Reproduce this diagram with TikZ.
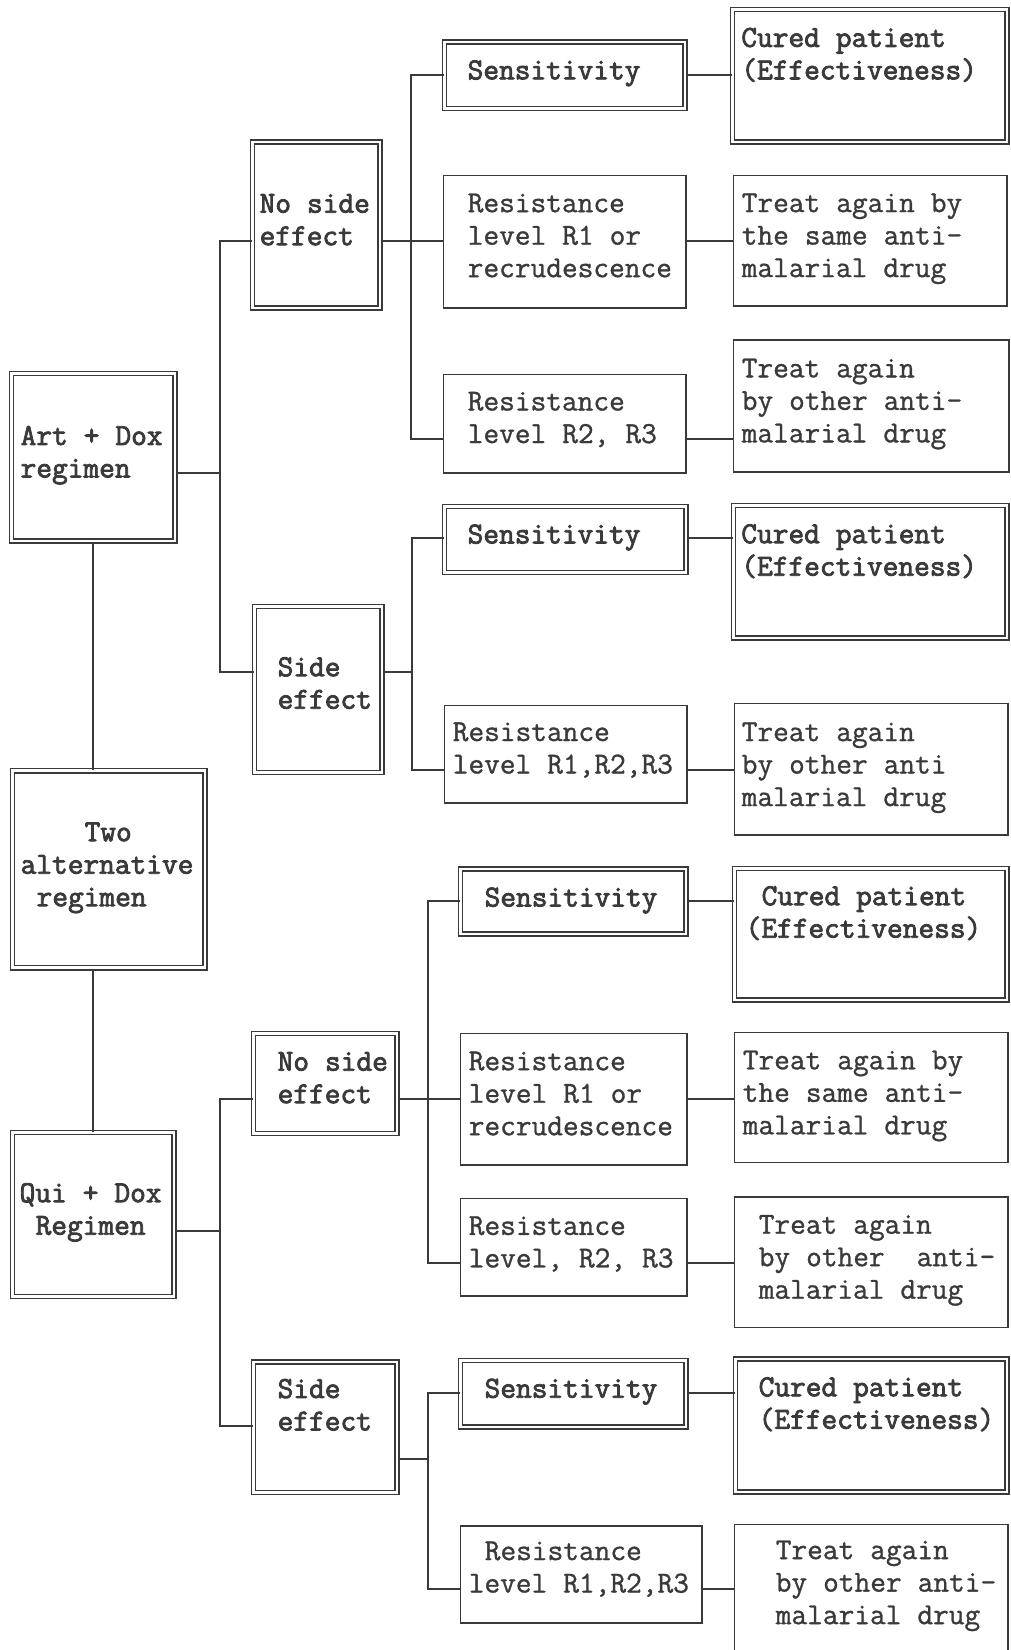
\documentclass[tikz,border=0pt]{standalone}
\usepackage{fontspec}
\usepackage{xcolor}
\usepackage{tikz}
\newfontfamily\typemono{Latin Modern Mono}[FakeBold=1]
\newfontfamily\heavymono{Latin Modern Mono}[FakeBold=2.6]
\definecolor{ink}{RGB}{58,58,58}
\newcommand\fixedspace{\spaceskip=16pt\relax\xspaceskip=16pt\relax}
\newcommand\liftby[1]{\endgraf\kern#1pt\relax}

\begin{document}
\begin{tikzpicture}[
    x=1pt, y=-1pt,
    every node/.style={anchor=north west, inner xsep=0pt, align=left},
    wh/.style 2 args={minimum width=#1pt, text width=#1pt, minimum height=#2pt},
    txt/.style 2 args={
      execute at begin node={\leftskip=#1pt\relax\fixedspace},
      execute at end node={\liftby{#2}}
    },
    sbox/.style={
      draw=ink,
      line width=1.5pt,
      text=ink,
      font=\typemono\fontsize{30.5}{32.5}\selectfont
    },
    dbox/.style={
      draw=ink,
      double,
      double distance=2.8pt,
      line width=1.3pt,
      text=ink,
      font=\heavymono\fontsize{30.5}{32.5}\selectfont
    },
    link/.style={draw=ink, line width=1.5pt}
  ]
    \useasboundingbox[fill=white] (0,0) rectangle (1010,1650);

    \node[dbox, wh={163.6}{167.6}, txt={9.3}{4}] (artdox) at (10.7,372.7)
      {Art + Dox\\regimen};
    \node[dbox, wh={192.6}{197}, txt={8.3}{3}] (two) at (11.7,770.2)
      {\ \ \ \ Two\\alternative\\\ regimen};
    \node[dbox, wh={161.6}{164.1}, txt={7.3}{4}] (quidox) at (11.7,1131.7)
      {Qui + Dox\\\ Regimen};

    \node[dbox, wh={127.6}{166}, txt={7.3}{10.5}] (noside1) at (251.7,141.3)
      {No side\\effect};
    \node[dbox, wh={127.6}{166}, txt={23.3}{12.6}] (side1) at (253.7,605.7)
      {Side\\effect};
    \node[dbox, wh={143.6}{100.2}, txt={24.3}{11.5}] (noside2) at (252.7,1032.7)
      {No side\\effect};
    \node[dbox, wh={143.6}{130.6}, txt={24.3}{12.6}] (side2) at (252.7,1361.3)
      {Side\\effect\\\mbox{}};

    \node[dbox, wh={240.6}{66.7}, txt={23.3}{4}] (sens1) at (443.7,41.3)
      {Sensitivity};
    \node[sbox, wh={242.6}{132.6}, txt={24.3}{12.6}] (res1a) at (442.7,174.7)
      {Resistance\\level R1 or\\recrudescence};
    \node[sbox, wh={242.6}{98.6}, txt={24.3}{8.4}] (res1b) at (442.7,373.7)
      {Resistance\\level R2, R3};
    \node[dbox, wh={241.6}{66.2}, txt={23.3}{4}] (sens2) at (443.7,505.7)
      {Sensitivity};
    \node[sbox, wh={242.6}{97.6}, txt={8.3}{8.4}] (res2) at (443.7,704.7)
      {Resistance\\level R1,R2,R3};
    \node[dbox, wh={225.6}{64.9}, txt={24.3}{2}] (sens3) at (459.7,868.4)
      {Sensitivity};
    \node[sbox, wh={226.6}{131.6}, txt={8.3}{11.5}] (res3a) at (459.7,1032.7)
      {Resistance\\level R1 or\\recrudescence};
    \node[sbox, wh={226.6}{97.3}, txt={8.3}{6.3}] (res3b) at (459.7,1197.7)
      {Resistance\\level, R2, R3};
    \node[dbox, wh={225.6}{66.6}, txt={24.3}{4}] (sens4) at (459.7,1359.7)
      {Sensitivity};
    \node[sbox, wh={241.6}{96.8}, txt={8.3}{10.5}] (res4) at (459.7,1525.2)
      {\ Resistance\\level R1,R2,R3};

    \node[dbox, wh={274.6}{132.2}, txt={9}{4}] (cured1) at (731.7,9.1)
      {Cured patient\\(Effectiveness)\\[8pt]\mbox{}};
    \node[sbox, wh={273.6}{130.6}, txt={8.3}{4}] (treat1a) at (732.7,174.7)
      {Treat again by\\the same anti-\\malarial drug};
    \node[sbox, wh={275.6}{132}, txt={8.3}{4}] (treat1b) at (732.7,339.3)
      {Treat again\\by other anti-\\malarial drug};
    \node[dbox, wh={273.6}{132.6}, txt={8}{3}] (cured2) at (732.7,504.7)
      {Cured patient\\(Effectiveness)\\[8pt]\mbox{}};
    \node[sbox, wh={273.6}{131.6}, txt={7.3}{3}] (treat2) at (733.7,702.7)
      {Treat again\\by other anti\\malarial drug};
    \node[dbox, wh={272.6}{131.6}, txt={11.3}{4}] (cured3) at (733.7,867.7)
      {\ Cured patient\\(Effectiveness)\\[8pt]\mbox{}};
    \node[sbox, wh={273.6}{130.1}, txt={8.3}{3}] (treat3a) at (733.7,1031.7)
      {Treat again by\\the same anti-\\malarial drug};
    \node[sbox, wh={273.6}{130.4}, txt={24.3}{4}] (treat3b) at (733.7,1196.4)
      {Treat again\\by other\ \ anti-\\malarial drug};
    \node[dbox, wh={271.6}{133}, txt={23.3}{12.6}] (cured4) at (734.7,1358.4)
      {Cured patient\\(Effectiveness)\\\mbox{}};
    \node[sbox, wh={273.6}{187}, txt={41.3}{6.3}] (treat4) at (733.7,1523.7)
      {Treat again\\by other anti-\\malarial drug\\\mbox{}\\\mbox{}};

    \coordinate (j1a) at (220,241);
    \coordinate (j1b) at (220,473);
    \coordinate (j1c) at (220,672);
    \coordinate (j2a) at (411,75);
    \coordinate (j2b) at (411,241);
    \coordinate (j2c) at (411,439);
    \coordinate (j3a) at (412,538);
    \coordinate (j3b) at (412,672);
    \coordinate (j3c) at (412,770);
    \coordinate (j4a) at (220,1099);
    \coordinate (j4b) at (220,1231);
    \coordinate (j4c) at (220,1426);
    \coordinate (j5a) at (428,901);
    \coordinate (j5b) at (428,1099);
    \coordinate (j5c) at (428,1263);
    \coordinate (j6a) at (428,1393);
    \coordinate (j6b) at (428,1459);
    \coordinate (j6c) at (428,1589);

    \draw[link] (artdox.south) -- (artdox.south |- two.north);
    \draw[link] (quidox.north) -- (quidox.north |- two.south);

    \draw[link] (noside1.west |- j1a) -- (j1a) -- (j1c) -- (side1.west |- j1c);
    \draw[link] (artdox.east |- j1b) -- (j1b);
    \draw[link] (sens1.west |- j2a) -- (j2a) -- (j2c) -- (res1b.west |- j2c);
    \draw[link] (noside1.east |- j2b) -- (res1a.west |- j2b);
    \draw[link] (sens1.east |- j2a) -- (cured1.west |- j2a);
    \draw[link] (res1a.east |- j2b) -- (treat1a.west |- j2b);
    \draw[link] (res1b.east |- j2c) -- (treat1b.west |- j2c);
    \draw[link] (sens2.west |- j3a) -- (j3a) -- (j3c) -- (res2.west |- j3c);
    \draw[link] (side1.east |- j3b) -- (j3b);
    \draw[link] (sens2.east |- j3a) -- (cured2.west |- j3a);
    \draw[link] (res2.east |- j3c) -- (treat2.west |- j3c);

    \draw[link] (noside2.west |- j4a) -- (j4a) -- (j4c) -- (side2.west |- j4c);
    \draw[link] (quidox.east |- j4b) -- (j4b);
    \draw[link] (sens3.west |- j5a) -- (j5a) -- (j5c) -- (res3b.west |- j5c);
    \draw[link] (noside2.east |- j5b) -- (res3a.west |- j5b);
    \draw[link] (sens3.east |- j5a) -- (cured3.west |- j5a);
    \draw[link] (res3a.east |- j5b) -- (treat3a.west |- j5b);
    \draw[link] (res3b.east |- j5c) -- (treat3b.west |- j5c);
    \draw[link] (sens4.west |- j6a) -- (j6a) -- (j6c) -- (res4.west |- j6c);
    \draw[link] (side2.east |- j6b) -- (j6b);
    \draw[link] (sens4.east |- j6a) -- (cured4.west |- j6a);
    \draw[link] (res4.east |- j6c) -- (treat4.west |- j6c);
  \end{tikzpicture}
\end{document}
